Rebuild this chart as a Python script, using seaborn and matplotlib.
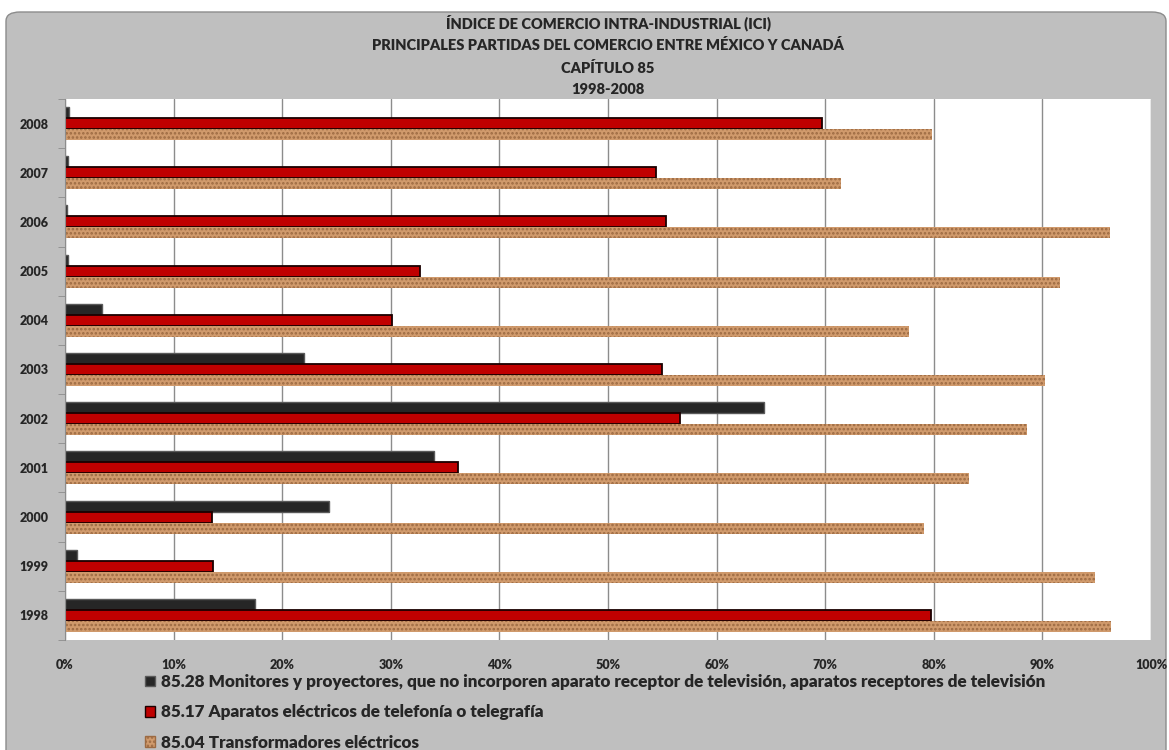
import pandas as pd
import numpy as np
import matplotlib
matplotlib.use("Agg")
import matplotlib.pyplot as plt
import seaborn as sns
from matplotlib.patches import FancyBboxPatch, Patch
from matplotlib.ticker import PercentFormatter, FixedLocator

# =========================
# DATA
# =========================

years = [1998, 1999, 2000, 2001, 2002, 2003, 2004, 2005, 2006, 2007, 2008]

ici_8528 = [17.5, 1.1, 24.3, 34.0, 64.4, 22.0, 3.4, 0.3, 0.2, 0.3, 0.4]
ici_8517 = [79.7, 13.6, 13.5, 36.2, 56.6, 55.0, 30.1, 32.7, 55.3, 54.4, 69.7]
ici_8504 = [96.3, 94.8, 79.1, 83.2, 88.6, 90.2, 77.7, 91.6, 96.2, 71.5, 79.8]

series_names = [
    "85.28 Monitores y proyectores, que no incorporen aparato receptor de televisión, aparatos receptores de televisión",
    "85.17 Aparatos eléctricos de telefonía o telegrafía",
    "85.04 Transformadores eléctricos",
]

title_lines = [
    "ÍNDICE DE COMERCIO INTRA-INDUSTRIAL (ICI)",
    "PRINCIPALES PARTIDAS DEL COMERCIO ENTRE MÉXICO Y CANADÁ",
    "CAPÍTULO 85",
    "1998-2008",
]

# =========================
# LONG TABLE
# =========================

df = pd.DataFrame({
    "year": [str(y) for y in years] * 3,
    "ici": ici_8528 + ici_8517 + ici_8504,
    "serie": [series_names[0]] * 11 + [series_names[1]] * 11 + [series_names[2]] * 11,
})

# =========================
# STYLE
# =========================

sns.set_style("white")
plt.rcParams["font.family"] = ["Lato", "DejaVu Sans"]
plt.rcParams["font.weight"] = "bold"
plt.rcParams["hatch.linewidth"] = 1.2

fill_colors = ["#262626", "#C00000", "#D09A6C"]
edge_colors = ["#5A5A5A", "#1A0000", "#9C6A42"]
hatches = [None, None, "...."]

W, H = 1169, 750
fig = plt.figure(figsize=(W / 100, H / 100), dpi=100)
fig.patch.set_facecolor("white")

# grey rounded chart area
bg = FancyBboxPatch(
    (6 / W, -0.05), 1160 / W, 1 - 12 / H + 0.05,
    boxstyle="round,pad=0,rounding_size=0.012",
    transform=fig.transFigure,
    facecolor="#BFBFBF", edgecolor="#8C8C8C", linewidth=1.0, zorder=-5,
)
fig.patches.append(bg)

ax = fig.add_axes([65 / W, 1 - 640 / H, (1151 - 65) / W, (640 - 99) / H])
ax.set_zorder(2)
ax.set_facecolor("white")

order = [str(y) for y in years][::-1]

sns.barplot(
    data=df,
    x="ici",
    y="year",
    hue="serie",
    order=order,
    hue_order=series_names,
    palette=fill_colors,
    orient="h",
    width=0.67,
    ax=ax,
    legend=False,
    saturation=1,
)

for i, cont in enumerate(ax.containers):
    for bar in cont:
        bar.set_edgecolor(edge_colors[i])
        if hatches[i]:
            bar.set_hatch(hatches[i])
            bar.set_linewidth(0)
        else:
            bar.set_linewidth(1.3 if i == 1 else 1.0)

# =========================
# AXES
# =========================

ax.set_xlim(0, 100)
ax.set_ylim(len(order) - 0.5, -0.5)
ax.xaxis.set_major_locator(FixedLocator(np.arange(0, 101, 10)))
ax.xaxis.set_major_formatter(PercentFormatter(100, decimals=0))
ax.grid(axis="x", color="#8C8C8C", linewidth=1.0)
ax.set_axisbelow(True)

for s in ["top", "right", "bottom"]:
    ax.spines[s].set_visible(False)
ax.spines["left"].set_color("#8C8C8C")

ax.set_xlabel("")
ax.set_ylabel("")

ax.tick_params(axis="x", length=5, color="#8C8C8C", pad=9, labelsize=9)
ax.tick_params(axis="y", which="major", length=0, pad=12, labelsize=9)
ax.yaxis.set_minor_locator(FixedLocator(np.arange(-0.5, len(order), 1)))
ax.tick_params(axis="y", which="minor", length=5, color="#8C8C8C", left=True)

# =========================
# TITLE
# =========================

title_y = [23, 45, 68, 89]
for txt, yy in zip(title_lines, title_y):
    fig.text(0.5 * (65 + 1151) / W, 1 - yy / H, txt,
             ha="center", va="center", fontsize=10.5, fontweight="heavy")

# =========================
# LEGEND
# =========================

handles = [
    Patch(facecolor=fill_colors[i], edgecolor=edge_colors[i],
          hatch=hatches[i], linewidth=1.0)
    for i in range(3)
]

fig.legend(
    handles, series_names,
    loc="upper left",
    bbox_to_anchor=(145 / W, 1 - 674 / H),
    frameon=False,
    handlelength=0.6,
    handleheight=0.6,
    handletextpad=0.35,
    labelspacing=0.84,
    borderaxespad=0,
    borderpad=0,
    prop={"weight": "heavy", "size": 12.3},
)

fig.canvas.draw()
for lab in ax.get_xticklabels() + ax.get_yticklabels():
    lab.set_fontweight("heavy")

plt.savefig("out.png", dpi=100)
